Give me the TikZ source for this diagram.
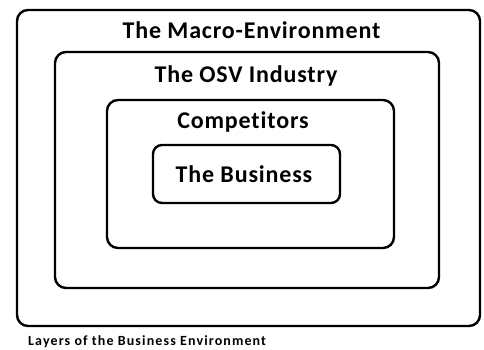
\documentclass[tikz,border=0pt]{standalone}
\usepackage{fontspec}
\setmainfont{Carlito}
\newfontfamily\layerfont[LetterSpace=3.5, Ligatures=NoCommon]{Carlito}
\newfontfamily\capfont[LetterSpace=8, Ligatures=NoCommon]{Carlito}
\usetikzlibrary{positioning}

\begin{document}
\begin{tikzpicture}[
	x = 1pt, y = -1pt, % work in pixels, y pointing down
	layer/.style={draw=black, line width=2.4pt, rounded corners=11pt, inner sep=0pt},  % nested boxes
	title/.style={anchor=base, inner sep=0pt, font=\layerfont\bfseries\fontsize{24}{26}\selectfont},
	caption/.style={anchor=base west, inner sep=0pt, font=\capfont\bfseries\fontsize{14}{16}\selectfont},
	]
	\useasboundingbox (0,0) rectangle (484,349);

	% Layers from outside in
	\node[layer, minimum width=463pt, minimum height=316pt] (macro) at (248.5,168) {};
	\node[layer, minimum width=384pt, minimum height=236pt] (osv) at (247,170) {};
	\node[layer, minimum width=287pt, minimum height=148pt] (comp) at (250.5,174) {};
	\node[layer, minimum width=187pt, minimum height=58pt, rounded corners=9pt] (biz) at (246.5,174) {};

	% Layer titles
	\node[title] (macrolbl) at (251.5,38) {The Macro-Environment};
	\node[title] (osvlbl) at (246,82) {The OSV Industry};
	\node[title] (complbl) at (243,128) {Competitors};
	\node[title] (bizlbl) at (244,182) {The Business};

	% Caption under the diagram
	\node[caption] (cap) at (28,345) {Layers of the Business Environment};

\end{tikzpicture}
\end{document}
